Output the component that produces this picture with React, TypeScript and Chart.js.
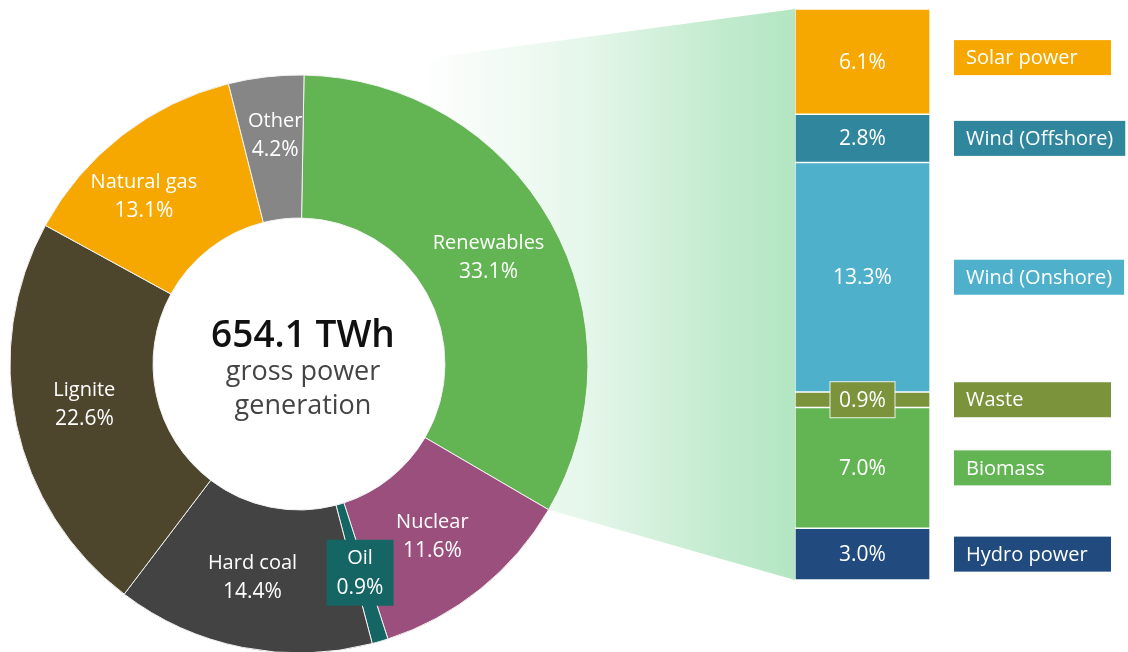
import React, { useEffect, useRef } from 'react';
import { Chart, registerables } from 'chart.js';

Chart.register(...registerables);

// ---- Data ----
const mixLabels = ['Renewables', 'Nuclear', 'Oil', 'Hard coal', 'Lignite', 'Natural gas', 'Other'];
const mixShares = [33.1, 11.6, 0.9, 14.4, 22.6, 13.1, 4.2];
const mixColors = ['#63B553', '#9A4F7C', '#146563', '#434343', '#4D452C', '#F6A800', '#868686'];

const renewLabels = ['Solar power', 'Wind (Offshore)', 'Wind (Onshore)', 'Waste', 'Biomass', 'Hydro power'];
const renewShares = [6.1, 2.8, 13.3, 0.9, 7.0, 3.0];
const renewColors = ['#F6A800', '#30869C', '#4EB0CB', '#7B933B', '#63B553', '#214A7E'];

const totalLabel = '654.1 TWh';
const subtitleLines = ['gross power', 'generation'];

const W = 1128;
const H = 652;
const FONT = '"Open Sans", "Noto Sans", sans-serif';

const pct = (v: number) => v.toFixed(1) + '%';

// small manual nudges for a couple of slice labels (style only)
const labelNudge: Record<string, [number, number]> = {
  'Natural gas': [-22, 4],
  Other: [1, -13],
  Nuclear: [-3, 3],
  'Hard coal': [-4, 0],
  Lignite: [-2, -5],
};

export default function App() {
  const donutRef = useRef<HTMLCanvasElement | null>(null);
  const barRef = useRef<HTMLCanvasElement | null>(null);

  useEffect(() => {
    if (!donutRef.current || !barRef.current) return;

    const donutLabelsPlugin = {
      id: 'donutLabels',
      afterDatasetsDraw(chart: any) {
        const ctx = chart.ctx;
        const meta = chart.getDatasetMeta(0);
        ctx.save();
        ctx.textAlign = 'center';
        ctx.textBaseline = 'middle';
        meta.data.forEach((arc: any, i: number) => {
          const mid = (arc.startAngle + arc.endAngle) / 2;
          const r = (arc.innerRadius + arc.outerRadius) / 2;
          const nudge = labelNudge[mixLabels[i]] || [0, 0];
          const cx = arc.x + Math.cos(mid) * r + nudge[0];
          const cy = arc.y + Math.sin(mid) * r + nudge[1];
          if (mixShares[i] < 2) {
            ctx.fillStyle = mixColors[i];
            ctx.fillRect(cx - 33.5, cy - 33, 67, 66);
          }
          ctx.fillStyle = '#ffffff';
          ctx.font = `500 20px ${FONT}`;
          ctx.fillText(mixLabels[i], cx, cy - 14);
          ctx.font = `500 21px ${FONT}`;
          ctx.fillText(pct(mixShares[i]), cx, cy + 15);
        });
        const a0 = meta.data[0];
        const cx = a0.x + 4;
        const cy = a0.y;
        ctx.fillStyle = '#111111';
        ctx.font = `600 37px ${FONT}`;
        ctx.fillText(totalLabel, cx, cy - 28);
        ctx.fillStyle = '#444444';
        ctx.font = `500 27px ${FONT}`;
        ctx.fillText(subtitleLines[0], cx, cy + 8);
        ctx.fillText(subtitleLines[1], cx, cy + 42);
        ctx.restore();
      },
    };

    const donut = new Chart(donutRef.current, {
      type: 'doughnut',
      data: {
        labels: mixLabels,
        datasets: [
          {
            data: mixShares,
            backgroundColor: mixColors,
            borderColor: '#f2f2f2',
            borderWidth: 1,
          },
        ],
      },
      options: {
        responsive: false,
        animation: false,
        events: [],
        radius: 289,
        cutout: '50.5%',
        rotation: 1,
        layout: { padding: { left: 0, right: W - 598, top: 76, bottom: 0 } },
        plugins: { legend: { display: false }, tooltip: { enabled: false } },
      } as any,
      plugins: [donutLabelsPlugin],
    });

    const total = renewShares.reduce((a, b) => a + b, 0);

    const wedgePlugin = {
      id: 'wedge',
      beforeDatasetsDraw(chart: any) {
        const arc: any = donut.getDatasetMeta(0).data[0];
        if (!arc) return;
        const R = arc.outerRadius;
        const p1x = arc.x + Math.cos(arc.startAngle) * R;
        const p1y = arc.y + Math.sin(arc.startAngle) * R;
        const p2x = arc.x + Math.cos(arc.endAngle) * R;
        const p2y = arc.y + Math.sin(arc.endAngle) * R;
        const el: any = chart.getDatasetMeta(0).data[0];
        const left = el.x - el.width / 2;
        const ys = chart.scales.y;
        const top = ys.getPixelForValue(0);
        const bottom = ys.getPixelForValue(total);
        const ctx = chart.ctx;
        ctx.save();
        const g = ctx.createLinearGradient(420, 0, left, 0);
        g.addColorStop(0, 'rgba(179,230,194,0)');
        g.addColorStop(0.45, 'rgba(179,230,194,0.35)');
        g.addColorStop(0.8, 'rgba(179,230,194,0.8)');
        g.addColorStop(1, 'rgba(179,230,194,1)');
        ctx.fillStyle = g;
        ctx.beginPath();
        ctx.moveTo(p1x, p1y);
        ctx.lineTo(left, top);
        ctx.lineTo(left, bottom);
        ctx.lineTo(p2x, p2y);
        ctx.closePath();
        ctx.fill();
        ctx.restore();
      },
    };

    const barLabelsPlugin = {
      id: 'barLabels',
      afterDatasetsDraw(chart: any) {
        const ctx = chart.ctx;
        const area = chart.chartArea;
        ctx.save();
        ctx.textBaseline = 'middle';
        renewShares.forEach((v, i) => {
          const el: any = chart.getDatasetMeta(i).data[0];
          const cy = (el.y + el.base) / 2;
          const cx = el.x;
          ctx.font = `500 21px ${FONT}`;
          if (v < 1.5) {
            ctx.fillStyle = renewColors[i];
            ctx.fillRect(cx - 32.5, cy - 18, 65, 36);
            ctx.strokeStyle = 'rgba(255,255,255,0.85)';
            ctx.lineWidth = 1;
            ctx.strokeRect(cx - 32.5, cy - 18, 65, 36);
          }
          ctx.fillStyle = '#ffffff';
          ctx.textAlign = 'center';
          ctx.fillText(pct(v), cx, cy + 1);

          // legend tag
          ctx.font = `500 20px ${FONT}`;
          const bx = area.right + 24;
          const tw = ctx.measureText(renewLabels[i]).width;
          const bw = Math.max(157, tw + 24);
          const ty = cy - 17.5 + (i === 0 ? -4 : 0);
          ctx.fillStyle = renewColors[i];
          ctx.fillRect(bx, ty, bw, 35);
          ctx.fillStyle = '#ffffff';
          ctx.textAlign = 'left';
          ctx.fillText(renewLabels[i], bx + 12, ty + 18.5);
        });
        ctx.restore();
      },
    };

    const bar = new Chart(barRef.current, {
      type: 'bar',
      data: {
        labels: ['Renewables'],
        datasets: renewLabels.map((l, i) => ({
          label: l,
          data: [renewShares[i]],
          backgroundColor: renewColors[i],
          borderColor: 'rgba(255,255,255,0.75)',
          borderWidth: 1,
          borderSkipped: false,
          categoryPercentage: 1,
          barPercentage: 1,
        })),
      },
      options: {
        responsive: false,
        animation: false,
        events: [],
        layout: { padding: { left: 795, right: W - 930, top: 9, bottom: H - 580 } },
        scales: {
          x: { stacked: true, display: false },
          y: { stacked: true, display: false, reverse: true, min: 0, max: total },
        },
        plugins: { legend: { display: false }, tooltip: { enabled: false } },
      } as any,
      plugins: [wedgePlugin, barLabelsPlugin],
    });

    return () => {
      bar.destroy();
      donut.destroy();
    };
  }, []);

  return (
    <div style={{ position: 'absolute', left: 0, top: 0, width: W, height: H, background: '#ffffff', overflow: 'hidden' }}>
      <canvas ref={barRef} width={W} height={H} style={{ position: 'absolute', left: 0, top: 0, width: W, height: H, zIndex: 0 }} />
      <canvas ref={donutRef} width={W} height={H} style={{ position: 'absolute', left: 0, top: 0, width: W, height: H, zIndex: 1 }} />
    </div>
  );
}
